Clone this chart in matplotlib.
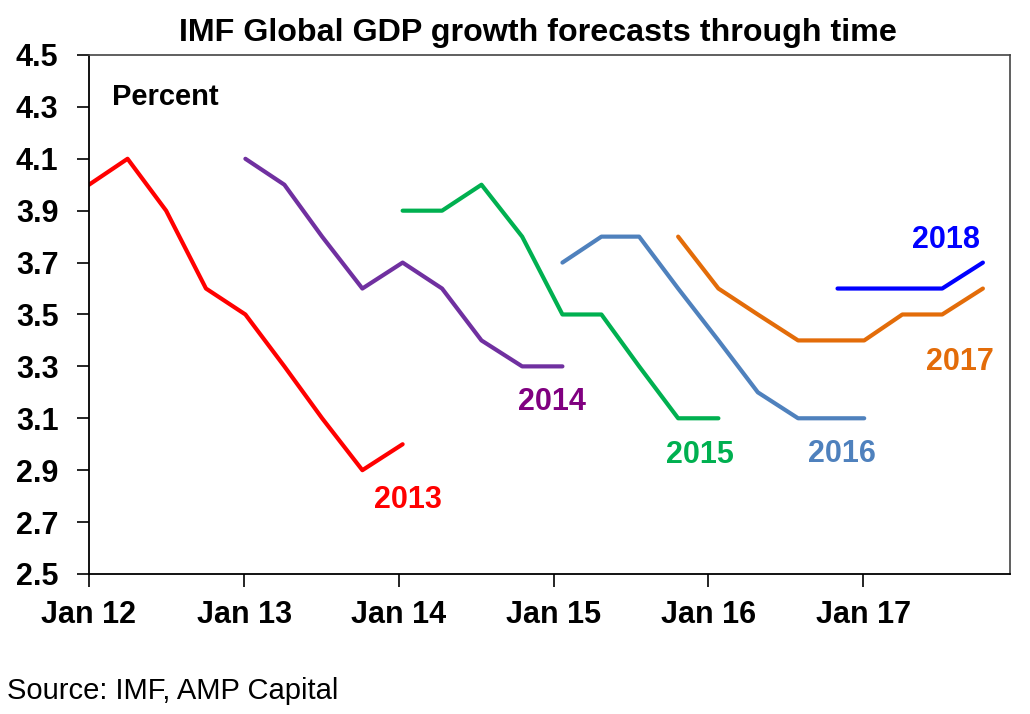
import pandas as pd
import matplotlib
matplotlib.use('Agg')
import matplotlib.pyplot as plt

plt.rcParams['font.family'] = ['Liberation Sans', 'DejaVu Sans']

# IMF release dates (positions)
release = pd.to_datetime([
    '2012-01-01', '2012-04-01', '2012-07-01', '2012-10-03',
    '2013-01-04', '2013-04-06', '2013-07-04', '2013-10-07',
    '2014-01-10', '2014-04-13', '2014-07-15', '2014-10-19',
    '2015-01-22', '2015-04-24', '2015-07-22', '2015-10-22',
    '2016-01-25', '2016-04-27', '2016-07-31', '2016-11-01',
    '2017-01-03', '2017-04-03', '2017-07-06', '2017-10-10',
])

# forecasts for each year, starting at release index in `starts`
f2013 = [4.0, 4.1, 3.9, 3.6, 3.5, 3.3, 3.1, 2.9, 3.0]
f2014 = [4.1, 4.0, 3.8, 3.6, 3.7, 3.6, 3.4, 3.3, 3.3]
f2015 = [3.9, 3.9, 4.0, 3.8, 3.5, 3.5, 3.3, 3.1, 3.1]
f2016 = [3.7, 3.8, 3.8, 3.6, 3.4, 3.2, 3.1, 3.1, 3.1]
f2017 = [3.8, 3.6, 3.5, 3.4, 3.4, 3.4, 3.5, 3.5, 3.6]
f2018 = [3.6, 3.6, 3.6, 3.6, 3.7]
starts = [0, 4, 8, 12, 15, 19]
years = ['2013', '2014', '2015', '2016', '2017', '2018']

line_colors = ['#FF0000', '#7030A0', '#00B050', '#4F81BD', '#E36C09', '#0000FF']
label_colors = ['#FF0000', '#800080', '#00B050', '#4F81BD', '#E36C09', '#0000FF']
# label positions in axes fraction
label_pos = [(0.346, 0.143), (0.503, 0.331), (0.663, 0.229),
             (0.818, 0.231), (0.946, 0.408), (0.931, 0.644)]

fig = plt.figure(figsize=(10.30, 7.14), dpi=100)
ax = fig.add_axes([0.0864, 0.1961, 0.8942, 0.7269])

for vals, s, c in zip([f2013, f2014, f2015, f2016, f2017, f2018], starts, line_colors):
    ax.plot(release[s:s + len(vals)], vals, color=c, lw=3, solid_capstyle='round')

for yr, (px, py), c in zip(years, label_pos, label_colors):
    ax.text(px, py, yr, transform=ax.transAxes, ha='center', va='center',
            fontsize=22, fontweight='bold', color=c)

ax.text(0.025, 0.919, 'Percent', transform=ax.transAxes, ha='left', va='center',
        fontsize=21, fontweight='bold')

ax.set_ylim(2.5, 4.5)
ax.set_yticks([2.5, 2.7, 2.9, 3.1, 3.3, 3.5, 3.7, 3.9, 4.1, 4.3, 4.5])
ax.set_yticklabels(['2.5', '2.7', '2.9', '3.1', '3.3', '3.5', '3.7', '3.9', '4.1', '4.3', '4.5'])
ax.set_xlim(pd.Timestamp('2012-01-01'), pd.Timestamp('2017-12-13'))
ticks = pd.to_datetime(['2012-01-01', '2013-01-01', '2014-01-01',
                        '2015-01-01', '2016-01-01', '2017-01-01'])
ax.set_xticks(ticks)
ax.set_xticklabels(['Jan 12', 'Jan 13', 'Jan 14', 'Jan 15', 'Jan 16', 'Jan 17'])

ax.tick_params(axis='both', direction='out', length=9, width=1.2, labelsize=22)
ax.tick_params(axis='y', pad=13)
ax.tick_params(axis='x', pad=10)
for lab in ax.get_xticklabels() + ax.get_yticklabels():
    lab.set_fontweight('bold')

for side in ['left', 'bottom']:
    ax.spines[side].set_color('black')
    ax.spines[side].set_linewidth(1.3)
for side in ['top', 'right']:
    ax.spines[side].set_color('#444444')
    ax.spines[side].set_linewidth(1.2)

fig.text(0.522, 0.9426, 'IMF Global GDP growth forecasts through time',
         ha='center', va='baseline', fontsize=23.2, fontweight='bold')
fig.text(0.007, 0.021, 'Source: IMF, AMP Capital', ha='left', va='baseline', fontsize=21)

fig.savefig('out.png', dpi=100)
